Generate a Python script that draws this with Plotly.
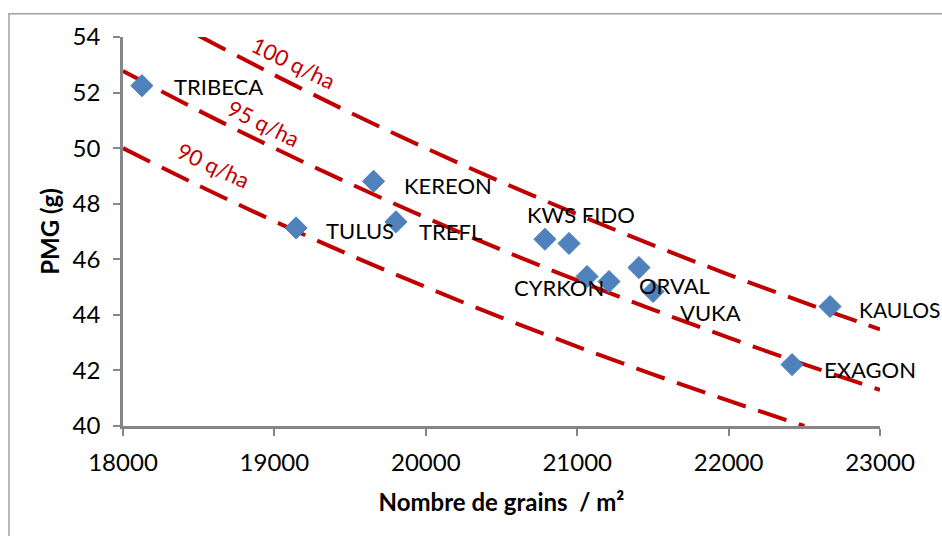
import numpy as np
import plotly.graph_objects as go

# ---- data ----
varieties = ["TRIBECA", "KEREON", "TREFL", "TULUS", "", "KWS FIDO",
             "CYRKON", "ORVAL", "", "VUKA", "KAULOS", "EXAGON"]
grains = [18125, 19655, 19803, 19143, 20787, 20946,
          21065, 21210, 21408, 21501, 22670, 22419]
pmg = [52.25, 48.81, 47.35, 47.13, 46.72, 46.57,
       45.38, 45.20, 45.70, 44.84, 44.30, 42.21]

# iso-yield curves
iso_names = ["100 q/ha", "95 q/ha", "90 q/ha"]
iso100_x = [18500, 19000, 19500, 20000, 20500, 21000, 21500, 22000, 22500, 23000]
iso100_y = [54.05, 52.63, 51.28, 50.00, 48.78, 47.62, 46.51, 45.45, 44.44, 43.48]
iso95_x = [18000, 18500, 19000, 19500, 20000, 20500, 21000, 21500, 22000, 22500, 23000]
iso95_y = [52.78, 51.35, 50.00, 48.72, 47.50, 46.34, 45.24, 44.19, 43.18, 42.22, 41.30]
iso90_x = [18000, 18500, 19000, 19500, 20000, 20500, 21000, 21500, 22000, 22500]
iso90_y = [50.00, 48.65, 47.37, 46.15, 45.00, 43.90, 42.86, 41.86, 40.91, 40.00]

x_ticks = [18000, 19000, 20000, 21000, 22000, 23000]
y_ticks = [40, 42, 44, 46, 48, 50, 52, 54]

# ---- styles ----
FONT = "Lato"
RED = "#C00000"
BLUE = "#4F81BD"
AXIS = "#868686"

# label offsets (pixels) and font sizes per variety
label_dx = [30, 28, 21, 28, 0, -44, -75, 28, 0, 25, 27, 30]
label_dy = [-1, -4, -10, -3, 0, 29, -11, -4, 0, -21, -3, -5]
label_size = [22, 22, 22, 22, 22, 22, 22, 22, 22, 22, 21, 22]

fig = go.Figure()

iso_sets = [(iso100_x, iso100_y), (iso95_x, iso95_y), (iso90_x, iso90_y)]
for name, (xs, ys) in zip(iso_names, iso_sets):
    fig.add_trace(go.Scatter(
        x=xs, y=ys, mode="lines", name=name, line_shape="spline",
        line=dict(color=RED, width=4, dash="30px,13px"),
        hoverinfo="skip", showlegend=False))

fig.add_trace(go.Scatter(
    x=grains, y=pmg, mode="markers", showlegend=False,
    marker=dict(symbol="diamond", size=17, color=BLUE,
                line=dict(color="#4A7EBB", width=1))))

annotations = []
for name, gx, py, dx, dy, fs in zip(varieties, grains, pmg, label_dx,
                                    label_dy, label_size):
    if not name:
        continue
    annotations.append(dict(
        x=gx, y=py, xref="x", yref="y", text=name, showarrow=False,
        xanchor="left", yanchor="middle", xshift=dx, yshift=dy,
        font=dict(family=FONT, size=fs, color="#000000")))

# iso-yield labels placed on the curves
iso_label_x = [19123, 18931, 18601]
iso_label_shift = [22, 19, 27]
iso_label_angle = [26, 26, 25]
for name, (xs, ys), lx, sh, ang in zip(iso_names, iso_sets, iso_label_x,
                                       iso_label_shift, iso_label_angle):
    ly = float(np.interp(lx, xs, ys))
    annotations.append(dict(
        x=lx, y=ly, xref="x", yref="y", text=name, showarrow=False,
        xanchor="center", yanchor="middle", yshift=sh, textangle=ang,
        font=dict(family=FONT, size=22, color=RED)))

fig.update_layout(
    width=942, height=536,
    margin=dict(l=123, r=62, t=37, b=110),
    paper_bgcolor="white", plot_bgcolor="white",
    font=dict(family=FONT, size=23, color="#000000"),
    annotations=annotations,
    shapes=[dict(type="rect", xref="paper", yref="paper",
                 x0=-0.1506, x1=1.2, y0=-0.4, y1=1.0599,
                 line=dict(color="#A0A0A0", width=1.5), layer="below")],
)

fig.update_xaxes(
    range=[18000, 23000], tickvals=x_ticks, ticktext=[str(v) for v in x_ticks],
    showline=True, linecolor=AXIS, linewidth=2.5, showgrid=False, zeroline=False,
    ticks="outside", ticklen=7, tickwidth=2, tickcolor=AXIS,
    tickfont=dict(family=FONT, size=24), ticklabelstandoff=6,
    title=dict(text="<b>Nombre de grains\u00a0 / m²</b>",
               font=dict(family=FONT, size=24), standoff=20))

fig.update_yaxes(
    range=[40, 54], tickvals=y_ticks, ticktext=[str(v) for v in y_ticks],
    showline=True, linecolor=AXIS, linewidth=2.5, showgrid=False, zeroline=False,
    ticks="outside", ticklen=7, tickwidth=2, tickcolor=AXIS,
    tickfont=dict(family=FONT, size=24), ticklabelstandoff=8,
    title=dict(text="<b>PMG (g)</b>", font=dict(family=FONT, size=24),
               standoff=7))

fig.write_html(
    "out.html",
    config={"displayModeBar": False},
    post_script="document.body.style.margin='0';"
                "document.body.style.overflow='hidden';")
